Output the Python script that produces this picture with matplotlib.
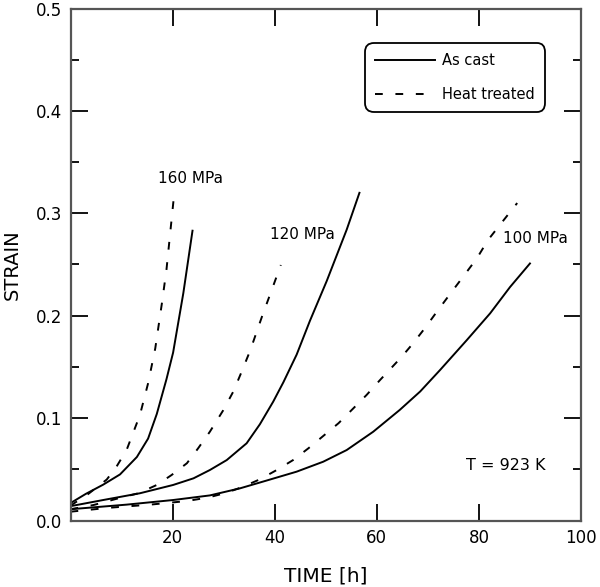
import matplotlib
matplotlib.use("Agg")
import matplotlib.pyplot as plt
from matplotlib.ticker import MultipleLocator, FixedLocator

# ---- data ----
x_160_cast = [0, 3.0, 6.4, 9.7, 13.0, 15.2, 16.9, 18.8, 20.1, 22.1, 23.9]
y_160_cast = [0.017, 0.026, 0.035, 0.045, 0.062, 0.080, 0.104, 0.138, 0.164, 0.222, 0.283]

x_160_ht = [0, 3.5, 7.1, 9.0, 11.0, 13.6, 15.2, 16.6, 17.9, 18.8, 20.3]
y_160_ht = [0.0145, 0.026, 0.040, 0.0525, 0.069, 0.103, 0.134, 0.168, 0.212, 0.245, 0.3185]

x_120_cast = [0, 6.4, 13.6, 20.1, 24.1, 27.3, 30.6, 34.5, 37.1, 39.7, 41.7, 44.3, 46.9, 50.2, 54.1, 56.6]
y_120_cast = [0.014, 0.020, 0.0266, 0.0347, 0.0412, 0.0493, 0.059, 0.0754, 0.094, 0.116, 0.135, 0.162, 0.195, 0.234, 0.284, 0.320]

x_120_ht = [0, 4.5, 9.4, 13.3, 16.9, 19.8, 22.8, 25.0, 27.3, 29.9, 31.9, 33.5, 35.2, 37.5, 39.7, 41.2]
y_120_ht = [0.011, 0.0151, 0.0217, 0.0266, 0.0347, 0.0444, 0.0559, 0.0705, 0.0867, 0.1075, 0.126, 0.145, 0.166, 0.199, 0.229, 0.2495]

x_100_cast = [0, 11.0, 20.1, 27.3, 33.2, 38.4, 44.3, 49.5, 54.1, 59.3, 64.5, 68.5, 72.4, 77.6, 82.2, 86.1, 90.0]
y_100_cast = [0.011, 0.0155, 0.020, 0.0245, 0.0314, 0.0390, 0.0477, 0.0574, 0.0688, 0.0867, 0.108, 0.126, 0.147, 0.176, 0.2023, 0.228, 0.251]

x_100_ht = [0, 7.7, 15.6, 22.8, 27.0, 30.5, 33.8, 37.1, 40.4, 43.6, 46.6, 49.5, 52.5, 55.4, 58.0, 60.6,
            64.9, 67.1, 69.4, 72.0, 74.7, 76.9, 79.6, 81.8, 84.1, 87.5]
y_100_ht = [0.0086, 0.0125, 0.0155, 0.019, 0.0225, 0.027, 0.033, 0.0402, 0.0493, 0.059, 0.0705, 0.0825,
            0.095, 0.1095, 0.1226, 0.137, 0.16, 0.173, 0.1877, 0.2055, 0.2235, 0.238, 0.256, 0.274, 0.2886, 0.310]

x_ticks = [20, 40, 60, 80, 100]
x_ticklabels = ["20", "40", "60", "80", "100"]
y_ticks = [0.0, 0.1, 0.2, 0.3, 0.4, 0.5]
y_ticklabels = ["0.0", "0.1", "0.2", "0.3", "0.4", "0.5"]

series_labels = ["As cast", "Heat treated"]
stress_labels = ["160 MPa", "120 MPa", "100 MPa"]
temp_label = "T = 923 K"

# ---- figure ----
fig = plt.figure(figsize=(6.0, 5.87), dpi=100)
ax = fig.add_axes([70.5 / 600, (587 - 520.5) / 587, 510.5 / 600, 512 / 587])

lw = 1.4
dash = (4, 6.5)
ax.plot(x_160_cast, y_160_cast, color="black", lw=lw, label=series_labels[0])
ax.plot(x_160_ht, y_160_ht, color="black", lw=lw, linestyle=(0, dash), label=series_labels[1])
ax.plot(x_120_cast, y_120_cast, color="black", lw=lw)
ax.plot(x_120_ht, y_120_ht, color="black", lw=lw, linestyle=(0, dash))
ax.plot(x_100_cast, y_100_cast, color="black", lw=lw)
ax.plot(x_100_ht, y_100_ht, color="black", lw=lw, linestyle=(0, dash))

ax.set_xlim(0, 100)
ax.set_ylim(0, 0.5)
ax.xaxis.set_major_locator(FixedLocator(x_ticks))
ax.set_xticklabels(x_ticklabels)
ax.yaxis.set_major_locator(FixedLocator(y_ticks))
ax.set_yticklabels(y_ticklabels)
ax.yaxis.set_minor_locator(MultipleLocator(0.05))

ax.tick_params(which="both", direction="in", top=True, right=True, color="black", width=1.3)
ax.tick_params(which="major", length=12, labelsize=12, pad=6)
ax.tick_params(which="minor", length=6)
for s in ax.spines.values():
    s.set_color("#555555")
    s.set_linewidth(1.6)

ax.set_xlabel("TIME [h]", fontsize=14.5, labelpad=14)
ax.set_ylabel("STRAIN", fontsize=14, labelpad=10)

ax.text(23.5, 0.334, stress_labels[0], fontsize=11, ha="center", va="center")
ax.text(45.5, 0.279, stress_labels[1], fontsize=11, ha="center", va="center")
ax.text(91, 0.275, stress_labels[2], fontsize=11, ha="center", va="center")
ax.text(85.3, 0.054, temp_label, fontsize=11.5, ha="center", va="center")

leg = ax.legend(loc="upper left", bbox_to_anchor=(0.577, 0.933), fontsize=10.5,
                handlelength=4.1, handletextpad=0.5, labelspacing=1.3,
                borderpad=0.7, borderaxespad=0, fancybox=True, frameon=True)
frame = leg.get_frame()
frame.set_edgecolor("black")
frame.set_linewidth(1.3)
frame.set_alpha(1)
frame.set_boxstyle("round,pad=0,rounding_size=0.6")

fig.savefig("out.png", dpi=100)
